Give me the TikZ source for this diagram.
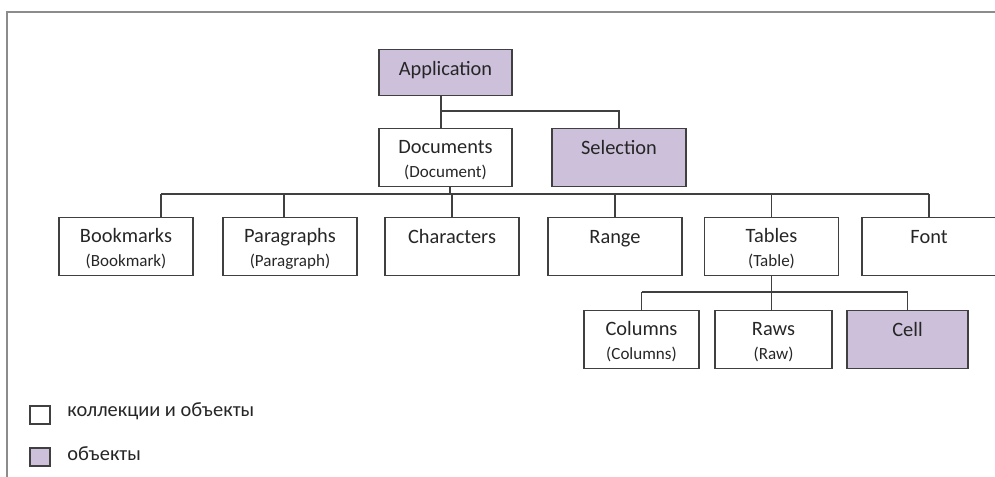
\documentclass[tikz,border=0pt]{standalone}
\usepackage{fontspec}
\setmainfont{Carlito}
\newcommand{\namefont}{\fontsize{11.6}{13.4}\selectfont}
\newcommand{\classfont}{\fontsize{9.7}{11.6}\selectfont}
\definecolor{objfill}{HTML}{CCC0DA}
\definecolor{edgegray}{HTML}{404040}
\definecolor{framegray}{HTML}{8C8C8C}
\definecolor{inkgray}{HTML}{262626}
\tikzset{
  box/.style={draw=edgegray, line width=0.6pt, anchor=north, inner sep=0pt, align=center,
    font=\namefont, text=inkgray, text height=0.51cm, text depth=0.65cm,
    minimum height=1.16cm, minimum width=2.68cm},
  twoline/.style={text height=0.98cm, text depth=0.18cm},
  obj/.style={box, fill=objfill},
  link/.style={draw=edgegray, line width=0.6pt},
  legsq/.style={draw=edgegray, line width=0.6pt, inner sep=0pt, minimum width=0.40cm, minimum height=0.36cm},
  legtext/.style={anchor=base west, inner sep=0pt, font=\namefont, text=inkgray}
}
\begin{document}
\begin{tikzpicture}
\useasboundingbox (0,0) rectangle (19.9,-9.54);
% frame
\draw[framegray, line width=0.6pt] (0.14,-9.54) -- (0.14,-0.24) -- (19.9,-0.24);

% top level
\node[obj, minimum width=2.66cm, minimum height=0.92cm, text depth=0.41cm] (app) at (8.91,-0.98) {Application};
\node[box, twoline, minimum width=2.66cm] (docs) at (8.91,-2.56) {Documents\\{\classfont(Document)}};
\node[obj] (sel) at (12.38,-2.56) {Selection};

% second level
\node[box, twoline] (bkm) at (2.52,-4.34) {Bookmarks\\{\classfont(Bookmark)}};
\node[box, twoline] (par) at (5.80,-4.34) {Paragraphs\\{\classfont(Paragraph)}};
\node[box] (chr) at (9.04,-4.34) {Characters};
\node[box] (rng) at (12.30,-4.34) {Range};
\node[box, twoline] (tbl) at (15.43,-4.34) {Tables\\{\classfont(Table)}};
\node[box] (fnt) at (18.58,-4.34) {Font};

% third level
\node[box, twoline, minimum width=2.30cm] (col) at (12.83,-6.20) {Columns\\{\classfont(Columns)}};
\node[box, twoline, minimum width=2.34cm] (raw) at (15.47,-6.20) {Raws\\{\classfont(Raw)}};
\node[obj, minimum width=2.42cm] (cell) at (18.15,-6.20) {Cell};

% connectors
\coordinate (bus0) at (0,-2.22);
\coordinate (bus1) at (0,-3.88);
\coordinate (bus2) at (0,-5.84);
\draw[link] ([xshift=-0.09cm]app.south) -- ([xshift=-0.09cm]app.south |- docs.north);
\draw[link] ([xshift=-0.09cm]app.south |- bus0) -| (sel.north);
\draw[link] ([xshift=0.09cm]docs.south) -- ([xshift=0.09cm]docs.south |- bus1);
\draw[link] ([xshift=0.70cm]bkm.north |- bus1) -- (fnt.north |- bus1);
\draw[link] ([xshift=0.70cm]bkm.north) -- ([xshift=0.70cm]bkm.north |- bus1);
\draw[link] ([xshift=-0.12cm]par.north) -- ([xshift=-0.12cm]par.north |- bus1);
\foreach \n in {chr, rng, tbl, fnt}
  \draw[link] (\n.north) -- (\n.north |- bus1);
\draw[link] (tbl.south) -- (tbl.south |- raw.north);
\draw[link] (col.north |- bus2) -- (cell.north |- bus2);
\draw[link] (col.north) -- (col.north |- bus2);
\draw[link] (cell.north) -- (cell.north |- bus2);

% legend
\node[legsq] (legcoll) at (0.80,-8.30) {};
\node[legsq, fill=objfill] (legobj) at (0.80,-9.14) {};
\node[legtext] (legcolltext) at (1.34,-8.34) {коллекции и объекты};
\node[legtext] (legobjtext) at (1.34,-9.20) {объекты};
\end{tikzpicture}
\end{document}
